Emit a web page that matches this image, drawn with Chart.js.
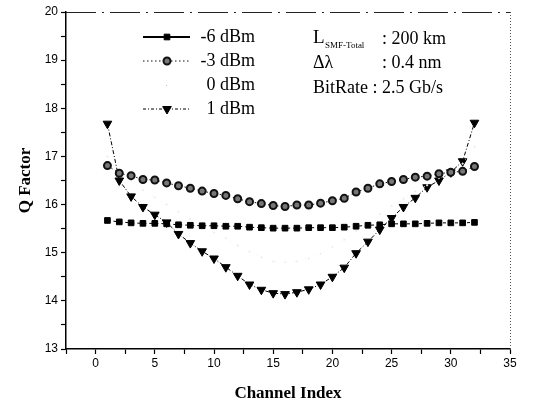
<!DOCTYPE html>
<html>
<head>
<meta charset="utf-8">
<script src="https://cdn.jsdelivr.net/npm/chart.js"></script>
<style>
  html, body { margin: 0; padding: 0; background: #fff; }
  #wrap { width: 545px; height: 406px; position: relative; }
</style>
</head>
<body>
<div id="wrap"><canvas id="graficaQ"></canvas></div>
<script>
// channel index 1..32
var canales = [1,2,3,4,5,6,7,8,9,10,11,12,13,14,15,16,17,18,19,20,21,22,23,24,25,26,27,28,29,30,31,32];

var q_m6 = [15.67,15.64,15.62,15.61,15.61,15.60,15.58,15.57,15.56,15.56,15.55,15.55,15.53,15.52,15.51,15.51,
            15.51,15.52,15.52,15.52,15.53,15.55,15.57,15.58,15.60,15.60,15.60,15.61,15.62,15.62,15.62,15.63];
var q_m3 = [16.81,16.65,16.60,16.52,16.51,16.45,16.39,16.34,16.28,16.23,16.19,16.12,16.06,16.02,15.98,15.96,
            15.99,15.99,16.03,16.08,16.13,16.26,16.34,16.43,16.48,16.52,16.57,16.59,16.64,16.67,16.69,16.79];
var q_0  = [17.00,16.70,16.50,16.30,16.15,16.00,15.85,15.70,15.55,15.42,15.30,15.15,15.02,14.90,14.82,14.80,
            14.82,14.88,14.98,15.12,15.27,15.45,15.62,15.80,15.97,16.12,16.27,16.40,16.55,16.70,16.85,17.20];
var q_p1 = [17.68,16.50,16.17,15.95,15.79,15.63,15.39,15.20,15.03,14.88,14.70,14.52,14.34,14.23,14.16,14.14,
            14.18,14.24,14.34,14.50,14.69,14.99,15.23,15.48,15.72,15.95,16.14,16.36,16.50,16.67,16.90,17.70];

var etiquetas = ["-6 dBm", "-3 dBm", "0 dBm", "1 dBm"];
var xTicks = [0,5,10,15,20,25,30,35];
var yTicks = [13,14,15,16,17,18,19,20];

function puntos(valores){
    return canales.map(function(c, i){ return {x: c, y: valores[i]}; });
}

var serif = "'Liberation Serif', 'Times New Roman', serif";
var sans = "'Liberation Sans', Arial, sans-serif";

var series = [
    {label: etiquetas[0], data: puntos(q_m6), borderColor:'#000', backgroundColor:'#000', borderDash:[3,3],
     pointStyle:'rect', pointRadius:4, pointRotation:0, legendDash:[]},
    {label: etiquetas[1], data: puntos(q_m3), borderColor:'#111', backgroundColor:'#777', borderDash:[1.5,3],
     pointStyle:'circle', pointRadius:3.5, pointBorderWidth:2, pointRotation:0, legendDash:[1.5,2.5]},
    {label: etiquetas[2], data: puntos(q_0), borderColor:'#f0f0f0', backgroundColor:'#d8d8d8', borderDash:[1,9],
     pointStyle:'circle', pointRadius:0.7, pointRotation:0, legendDash:[1,7], legendHide:true},
    {label: etiquetas[3], data: puntos(q_p1), borderColor:'#000', backgroundColor:'#000', borderDash:[4,2,1,2],
     pointStyle:'triangle', pointRadius:5, pointRotation:180, legendDash:[3,2,1,2]}
];

series.forEach(function(s){
    s.borderWidth = 1;
    s.showLine = true;
    s.pointBorderColor = s.borderColor;
    s.pointBackgroundColor = s.backgroundColor;
    if (s.pointBorderWidth === undefined) s.pointBorderWidth = 1;
});

// legend and annotation drawn inside the plot
var leyendaInterna = {
    id: 'leyendaInterna',
    afterDraw: function(chart){
        var ctx = chart.ctx;
        var area = chart.chartArea;
        ctx.save();
        // top and right frame
        ctx.strokeStyle = '#222';
        ctx.lineWidth = 1;
        ctx.setLineDash([30,6,2,6]);
        ctx.beginPath();
        ctx.moveTo(area.left, area.top + 0.5);
        ctx.lineTo(area.right, area.top + 0.5);
        ctx.stroke();
        ctx.strokeStyle = '#555';
        ctx.setLineDash([1,2]);
        ctx.beginPath();
        ctx.moveTo(area.right + 0.5, area.top);
        ctx.lineTo(area.right + 0.5, area.bottom);
        ctx.stroke();

        // legend
        var y0 = 37, dy = 24;
        chart.data.datasets.forEach(function(ds, i){
            var y = y0 + i * dy;
            if (!ds.legendHide) {
                ctx.strokeStyle = ds.borderColor;
                ctx.lineWidth = i === 0 ? 1.8 : 1;
                ctx.setLineDash(ds.legendDash);
                ctx.beginPath();
                ctx.moveTo(143, y);
                ctx.lineTo(190, y);
                ctx.stroke();
                ctx.setLineDash([]);
                ctx.fillStyle = ds.pointBackgroundColor;
                ctx.strokeStyle = ds.pointBorderColor;
                ctx.lineWidth = ds.pointBorderWidth;
                Chart.helpers.drawPoint(ctx, {
                    pointStyle: ds.pointStyle, radius: ds.pointRadius, rotation: ds.pointRotation,
                    borderWidth: ds.pointBorderWidth
                }, 167, y);
            } else {
                ctx.fillStyle = '#bbb';
                ctx.fillRect(166, y, 1, 1);
            }
            ctx.setLineDash([]);
            ctx.fillStyle = '#000';
            ctx.font = '18px ' + serif;
            ctx.textAlign = 'right';
            ctx.textBaseline = 'middle';
            ctx.fillText(ds.label, 255, y);
        });

        // parameters
        ctx.textAlign = 'left';
        ctx.textBaseline = 'middle';
        ctx.fillStyle = '#000';
        ctx.font = '19px ' + serif;
        ctx.fillText('L', 313, 38);
        ctx.font = '9px ' + serif;
        ctx.fillText('SMF-Total', 325, 46);
        ctx.font = '18px ' + serif;
        ctx.fillText(': 200 km', 382, 39);
        ctx.fillText('\u0394\u03bb', 313, 63);
        ctx.fillText(': 0.4 nm', 382, 63);
        ctx.fillText('BitRate : 2.5 Gb/s', 313, 88);
        ctx.restore();
    }
};

var canva = document.getElementById("graficaQ").getContext("2d");
var chartQ = new Chart(canva, {
    type: "scatter",
    data: { datasets: series },
    options: {
        responsive: true,
        maintainAspectRatio: false,
        animation: false,
        layout: { padding: { left: 0, right: 35, top: 12, bottom: 2 } },
        plugins: {
            legend: { display: false },
            tooltip: { enabled: false }
        },
        scales: {
            x: {
                type: 'linear',
                min: -2.5,
                max: 35,
                afterFit: function(scale){ scale.height = 55; },
                afterBuildTicks: function(scale){
                    var t = [];
                    for (var v = -2.5; v <= 35.001; v += 2.5) t.push({value: v});
                    scale.ticks = t;
                },
                ticks: {
                    color: '#000',
                    font: { family: sans, size: 12 },
                    padding: 2,
                    maxRotation: 0,
                    autoSkip: false,
                    callback: function(v){ return xTicks.indexOf(v) >= 0 ? String(v) : ''; }
                },
                grid: { drawOnChartArea: false, drawTicks: true, tickLength: 5, tickColor: '#000', tickWidth: 1.2 },
                border: { display: true, color: '#000', width: 1.5 },
                title: {
                    display: true,
                    text: 'Channel Index',
                    color: '#000',
                    font: { family: serif, size: 17, weight: 'bold' },
                    padding: { top: 8, bottom: 0 }
                }
            },
            y: {
                type: 'linear',
                min: 13,
                max: 20,
                afterFit: function(scale){ scale.width = 66; },
                afterBuildTicks: function(scale){
                    var t = [];
                    for (var v = 13; v <= 20.001; v += 0.5) t.push({value: v});
                    scale.ticks = t;
                },
                ticks: {
                    color: '#000',
                    font: { family: sans, size: 12 },
                    padding: 3,
                    autoSkip: false,
                    callback: function(v){ return yTicks.indexOf(v) >= 0 ? String(v) : ''; }
                },
                grid: { drawOnChartArea: false, drawTicks: true, tickLength: 5, tickColor: '#000', tickWidth: 1.2 },
                border: { display: true, color: '#000', width: 1.5 },
                title: {
                    display: true,
                    text: 'Q Factor',
                    color: '#000',
                    font: { family: serif, size: 17, weight: 'bold' },
                    padding: { top: 15, bottom: 0 }
                }
            }
        }
    },
    plugins: [leyendaInterna]
});
</script>
</body>
</html>
